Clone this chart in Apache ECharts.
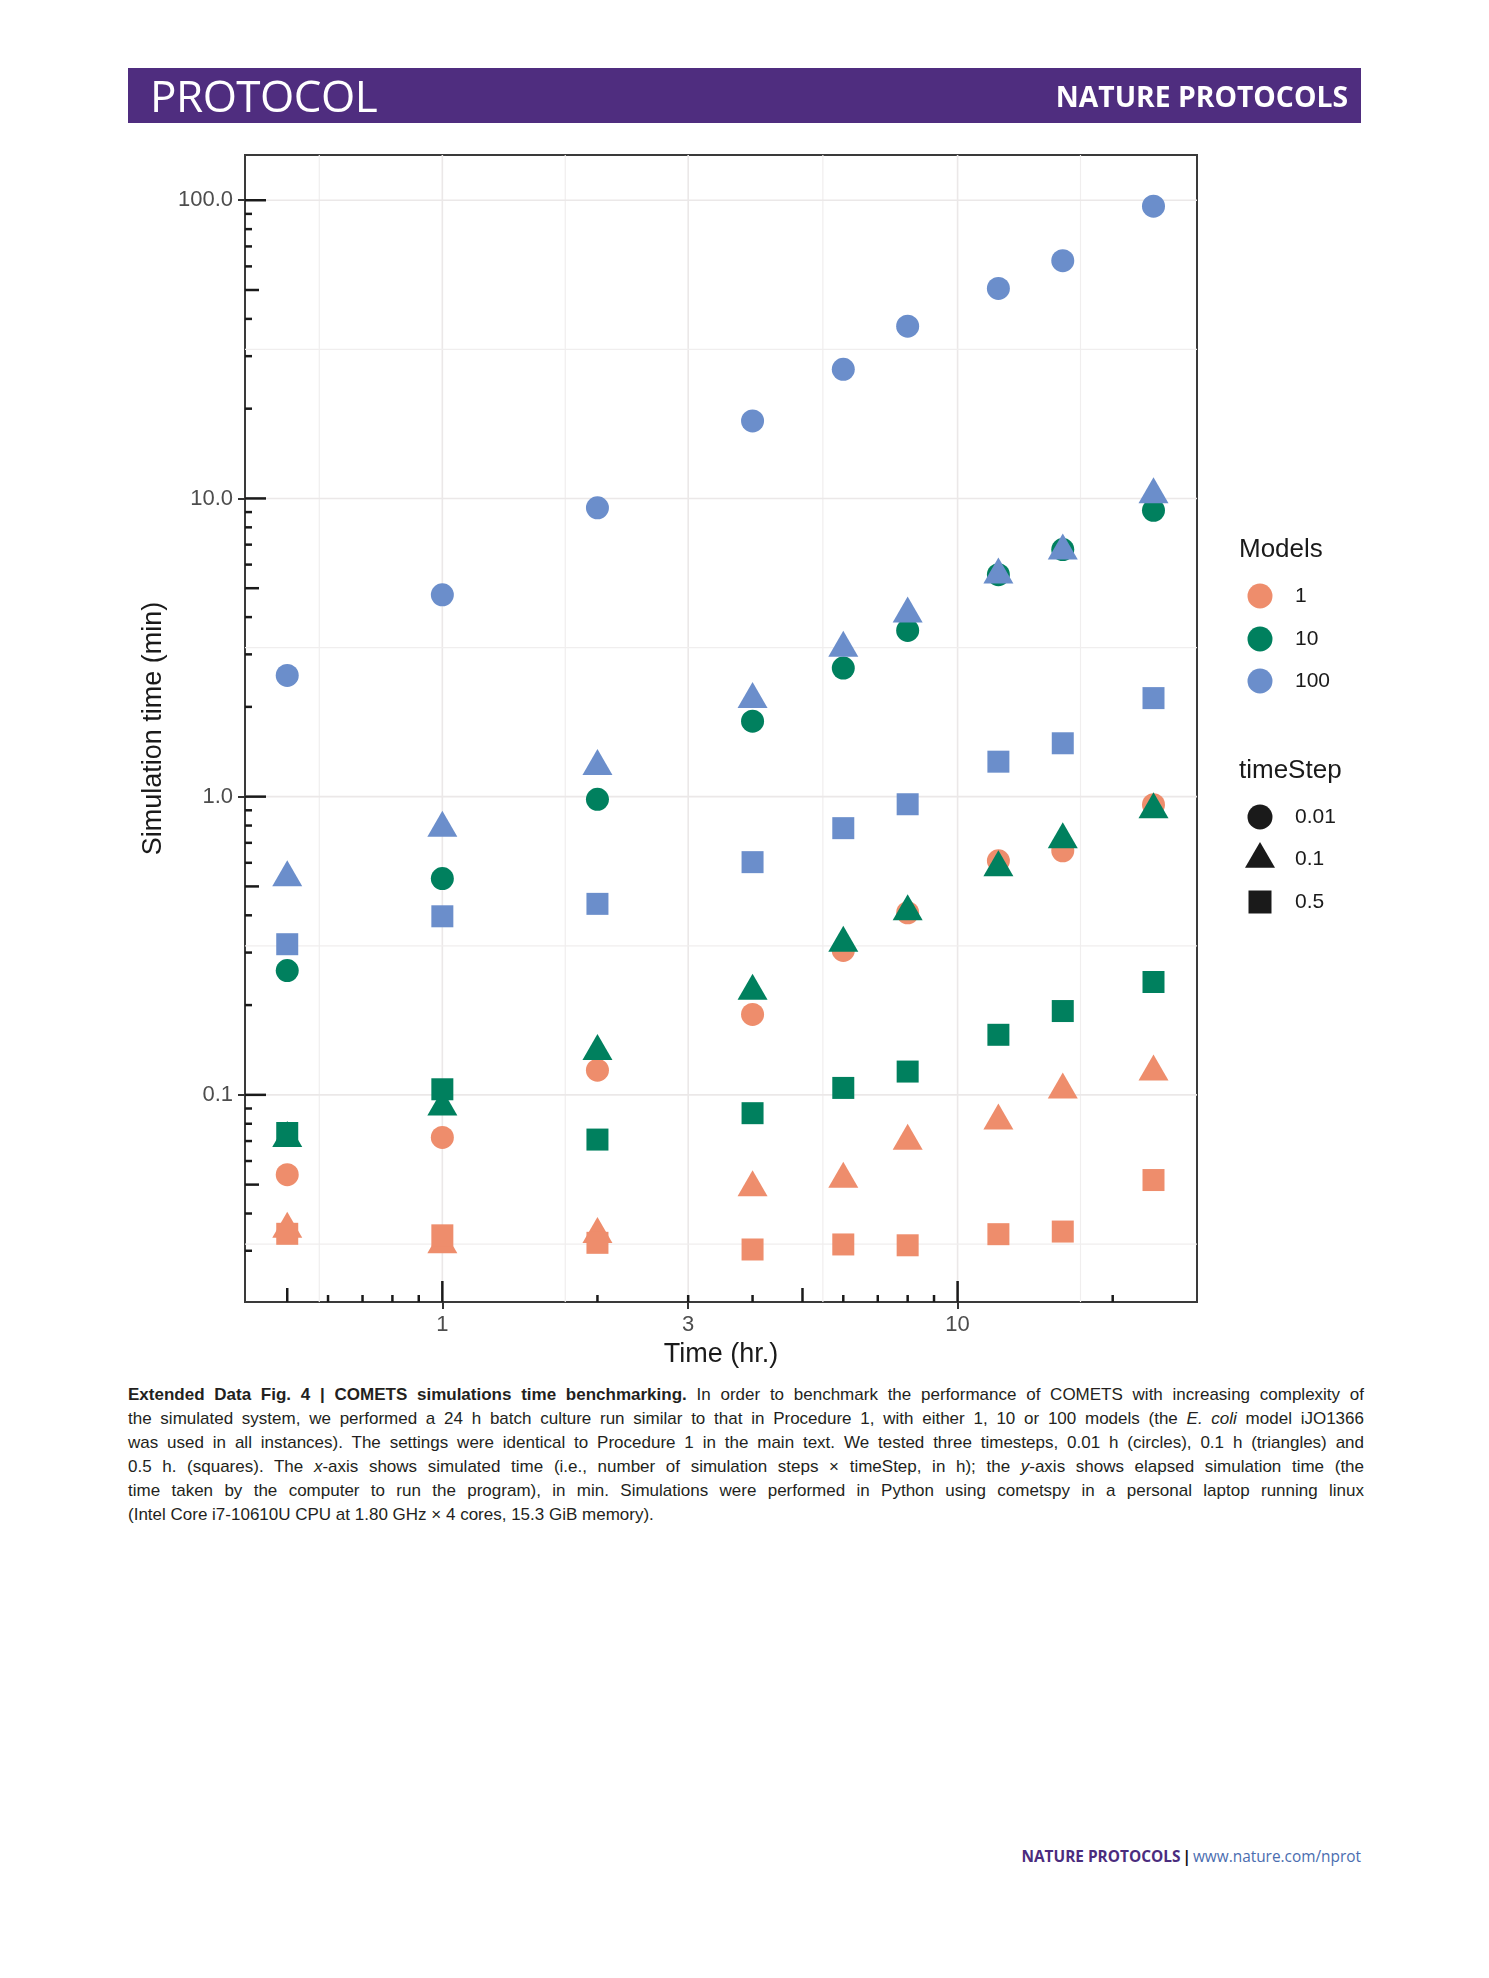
<!DOCTYPE html>
<html>
<head>
<meta charset="utf-8">
<script src="https://cdn.jsdelivr.net/npm/echarts@6/dist/echarts.min.js"></script>
<style>
html,body{margin:0;padding:0;background:#fff;}
body{width:1489px;height:1978px;position:relative;overflow:hidden;}
#chart{position:absolute;left:0;top:0;width:1489px;height:1380px;}
#header{position:absolute;left:128px;top:68px;width:1233px;height:55px;background:#4F2D7F;color:#fff;z-index:2;}
#hleft{position:absolute;left:22px;top:0;line-height:55px;font-family:'Open Sans',sans-serif;font-size:44px;font-weight:400;letter-spacing:-0.5px;}
#hright{position:absolute;right:13px;top:1px;line-height:55px;font-family:'Open Sans',sans-serif;font-weight:700;font-size:28.3px;}
#caption{position:absolute;left:128px;top:1383px;width:1236px;font-family:'Liberation Sans',sans-serif;font-size:17px;line-height:24px;color:#231F20;z-index:2;}
.cl{white-space:nowrap;height:24px;}
.cl .inner{display:inline-block;transform-origin:left center;}
#footer{position:absolute;right:128px;top:1845px;line-height:24px;font-family:'Open Sans',sans-serif;font-size:15.4px;white-space:nowrap;z-index:2;}
#footer .np{color:#4B2C7E;font-weight:700;}
#footer .bar{color:#111;font-weight:700;margin:0 2px;}
#footer .url{color:#4A6DB0;}
</style>
</head>
<body>
<div id="header"><div id="hleft">PROTOCOL</div><div id="hright">NATURE PROTOCOLS</div></div>
<div id="chart"></div>
<div id="caption">
<div class="cl"><span class="inner"><b>Extended Data Fig. 4 | COMETS simulations time benchmarking.</b> In order to benchmark the performance of COMETS with increasing complexity of</span></div>
<div class="cl"><span class="inner">the simulated system, we performed a 24 h batch culture run similar to that in Procedure 1, with either 1, 10 or 100 models (the <i>E. coli</i> model iJO1366</span></div>
<div class="cl"><span class="inner">was used in all instances). The settings were identical to Procedure 1 in the main text. We tested three timesteps, 0.01 h (circles), 0.1 h (triangles) and</span></div>
<div class="cl"><span class="inner">0.5 h. (squares). The <i>x</i>-axis shows simulated time (i.e., number of simulation steps × timeStep, in h); the <i>y</i>-axis shows elapsed simulation time (the</span></div>
<div class="cl"><span class="inner">time taken by the computer to run the program), in min. Simulations were performed in Python using cometspy in a personal laptop running linux</span></div>
<div class="cl"><span class="inner">(Intel Core i7-10610U CPU at 1.80 GHz × 4 cores, 15.3 GiB memory).</span></div>
</div>
<div id="footer"><span class="np">NATURE PROTOCOLS</span><span class="bar">|</span><span class="url">www.nature.com/nprot</span></div>
<script>
// ---------------- DATA ----------------
const timeHours = [0.5, 1, 2, 4, 6, 8, 12, 16, 24];
const modelNames = ['1', '10', '100'];
const timeStepNames = ['0.01', '0.1', '0.5'];

// Simulation time (min), models = 1
const m1_step001 = [0.054, 0.072, 0.121, 0.186, 0.305, 0.408, 0.609, 0.658, 0.94];
const m1_step01  = [0.0355, 0.0315, 0.0341, 0.0489, 0.0522, 0.070, 0.0818, 0.104, 0.1195];
const m1_step05  = [0.0342, 0.0338, 0.0319, 0.0303, 0.0315, 0.0313, 0.0341, 0.0348, 0.0518];
// models = 10
const m10_step001 = [0.261, 0.531, 0.98, 1.79, 2.70, 3.61, 5.55, 6.74, 9.12];
const m10_step01  = [0.0715, 0.0912, 0.140, 0.223, 0.323, 0.412, 0.578, 0.718, 0.905];
const m10_step05  = [0.0745, 0.1044, 0.0708, 0.0868, 0.1055, 0.1197, 0.159, 0.191, 0.239];
// models = 100
const m100_step001 = [2.55, 4.75, 9.3, 18.2, 27.1, 37.8, 50.6, 62.7, 95.5];
const m100_step01  = [0.535, 0.785, 1.265, 2.12, 3.15, 4.10, 5.55, 6.67, 10.3];
const m100_step05  = [0.32, 0.397, 0.437, 0.603, 0.784, 0.943, 1.31, 1.51, 2.14];

// axis ticks / labels
const xTickValues = [1, 3, 10];
const xTickLabels = ['1', '3', '10'];
const yTickValues = [0.1, 1, 10, 100];
const yTickLabels = ['0.1', '1.0', '10.0', '100.0'];
const xMinorGrid = [0.577, 1.732, 5.477, 17.32];
const yMinorGrid = [0.0316, 0.316, 3.16, 31.6];

// ---------------- STYLE ----------------
const modelColors = {'1': '#EE8D6C', '10': '#00805E', '100': '#6B8ECB'};
const shapeStyle = {
  '0.01': {symbol: 'circle', size: 23, offset: [0, 0]},
  '0.1': {symbol: 'triangle', size: [30, 26], offset: [0, -4.3]},
  '0.5': {symbol: 'rect', size: 22, offset: [0, 0]}
};
const FONT = 'Liberation Sans';
const X_MIN = 0.414, X_MAX = 29.15, Y_MIN = 0.0202, Y_MAX = 141.8;

const dataByModel = {
  '1': {'0.01': m1_step001, '0.1': m1_step01, '0.5': m1_step05},
  '10': {'0.01': m10_step001, '0.1': m10_step01, '0.5': m10_step05},
  '100': {'0.01': m100_step001, '0.1': m100_step01, '0.5': m100_step05}
};

const scatterSeries = modelNames.map(m => {
  const items = [];
  timeStepNames.forEach(ts => {
    const st = shapeStyle[ts];
    dataByModel[m][ts].forEach((v, i) => {
      items.push({value: [timeHours[i], v], symbol: st.symbol, symbolSize: st.size, symbolOffset: st.offset});
    });
  });
  return {
    type: 'scatter', name: m, data: items, z: 5,
    itemStyle: {color: modelColors[m], opacity: 1, borderWidth: 0},
    emphasis: {disabled: true}, silent: true
  };
});

// grid lines (kind: 0 = x major, 1 = x minor, 2 = y major, 3 = y minor)
const gridData = [];
xTickValues.forEach(v => gridData.push([v, 1, 0]));
xMinorGrid.forEach(v => gridData.push([v, 1, 1]));
yTickValues.forEach(v => gridData.push([1, v, 2]));
yMinorGrid.forEach(v => gridData.push([1, v, 3]));

// annotation log ticks (orient 0 = left/y, 1 = bottom/x), length code: 2 long, 1 mid, 0 short
const logTickData = [];
for (let e = -2; e <= 2; e++) {
  for (let k = 1; k <= 9; k++) {
    const v = k * Math.pow(10, e);
    const len = k === 1 ? 2 : (k === 5 ? 1 : 0);
    if (v >= Y_MIN && v <= Y_MAX) logTickData.push([1, v, len, 0]);
    if (v >= X_MIN && v <= X_MAX) logTickData.push([v, 1, len, 1]);
  }
}
const tickLen = [7, 14, 21];

function labelFor(values, labels) {
  return function (v) {
    for (let i = 0; i < values.length; i++) {
      if (Math.abs(v - values[i]) / values[i] < 1e-6) return labels[i];
    }
    return '';
  };
}

const chart = echarts.init(document.getElementById('chart'), null, {renderer: 'canvas'});

const legendX = 1260, legendTextX = 1295;
const legendModelsY = [596, 639, 681];
const legendStepY = [817, 859, 902];
const legendGraphic = [
  {type: 'text', x: 1239, y: 550, style: {text: 'Models', font: '26px ' + FONT, fill: '#1a1a1a', verticalAlign: 'middle'}},
  {type: 'text', x: 1239, y: 771, style: {text: 'timeStep', font: '26px ' + FONT, fill: '#1a1a1a', verticalAlign: 'middle'}}
];
modelNames.forEach((m, i) => {
  legendGraphic.push({type: 'circle', shape: {cx: legendX, cy: legendModelsY[i], r: 12.5}, style: {fill: modelColors[m]}});
  legendGraphic.push({type: 'text', x: legendTextX, y: legendModelsY[i], style: {text: m, font: '21px ' + FONT, fill: '#1a1a1a', verticalAlign: 'middle'}});
});
legendGraphic.push({type: 'circle', shape: {cx: legendX, cy: legendStepY[0], r: 12.5}, style: {fill: '#1a1a1a'}});
legendGraphic.push({type: 'polygon', shape: {points: [[legendX, legendStepY[1] - 17], [legendX + 15, legendStepY[1] + 8.7], [legendX - 15, legendStepY[1] + 8.7]]}, style: {fill: '#1a1a1a'}});
legendGraphic.push({type: 'rect', shape: {x: legendX - 11.5, y: legendStepY[2] - 11.5, width: 23, height: 23}, style: {fill: '#1a1a1a'}});
timeStepNames.forEach((t, i) => {
  legendGraphic.push({type: 'text', x: legendTextX, y: legendStepY[i], style: {text: t, font: '21px ' + FONT, fill: '#1a1a1a', verticalAlign: 'middle'}});
});

const option = {
  animation: false,
  backgroundColor: 'transparent',
  textStyle: {fontFamily: FONT},
  grid: {left: 245, top: 155, width: 952, height: 1147, show: true, borderColor: '#3a3a3a', borderWidth: 2, backgroundColor: 'transparent'},
  xAxis: {
    type: 'log', logBase: 10, min: X_MIN, max: X_MAX,
    axisLine: {show: false},
    axisTick: {show: true, customValues: xTickValues, length: 7, inside: false, lineStyle: {color: '#333', width: 2}},
    axisLabel: {customValues: xTickValues, formatter: labelFor(xTickValues, xTickLabels), fontSize: 22, color: '#4D4D4D', margin: 12, fontFamily: FONT},
    splitLine: {show: false}, minorTick: {show: false}, minorSplitLine: {show: false},
    name: 'Time (hr.)', nameLocation: 'middle', nameGap: 39,
    nameTextStyle: {fontSize: 27, color: '#1a1a1a', fontFamily: FONT}
  },
  yAxis: {
    type: 'log', logBase: 10, min: Y_MIN, max: Y_MAX,
    axisLine: {show: false},
    axisTick: {show: true, customValues: yTickValues, length: 7, inside: false, lineStyle: {color: '#333', width: 2}},
    axisLabel: {customValues: yTickValues, formatter: labelFor(yTickValues, yTickLabels), fontSize: 22, color: '#4D4D4D', margin: 12, fontFamily: FONT},
    splitLine: {show: false}, minorTick: {show: false}, minorSplitLine: {show: false},
    name: 'Simulation time (min)', nameLocation: 'middle', nameGap: 76, nameRotate: 90,
    nameTextStyle: {fontSize: 27, color: '#1a1a1a', fontFamily: FONT}
  },
  graphic: legendGraphic,
  series: [
    {
      type: 'custom', name: 'grid', data: gridData, z: 1, silent: true, clip: false,
      encode: {x: 0, y: 1},
      renderItem: function (params, api) {
        const cs = params.coordSys;
        const kind = api.value(2);
        const major = (kind === 0 || kind === 2);
        const style = {stroke: major ? '#EBE8E8' : '#F0EEEE', lineWidth: major ? 1.6 : 1.2};
        if (kind <= 1) {
          const p = api.coord([api.value(0), 1]);
          return {type: 'line', shape: {x1: p[0], y1: cs.y, x2: p[0], y2: cs.y + cs.height}, style: style};
        }
        const p = api.coord([1, api.value(1)]);
        return {type: 'line', shape: {x1: cs.x, y1: p[1], x2: cs.x + cs.width, y2: p[1]}, style: style};
      }
    },
    {
      type: 'custom', name: 'logticks', data: logTickData, z: 3, silent: true, clip: false,
      encode: {x: 0, y: 1},
      renderItem: function (params, api) {
        const cs = params.coordSys;
        const len = tickLen[api.value(2)];
        const style = {stroke: '#1a1a1a', lineWidth: 2.5};
        if (api.value(3) === 0) {
          const p = api.coord([1, api.value(1)]);
          return {type: 'line', shape: {x1: cs.x, y1: p[1], x2: cs.x + len, y2: p[1]}, style: style};
        }
        const p = api.coord([api.value(0), 1]);
        const yb = cs.y + cs.height;
        return {type: 'line', shape: {x1: p[0], y1: yb, x2: p[0], y2: yb - len}, style: style};
      }
    }
  ].concat(scatterSeries)
};
chart.setOption(option);

// justify caption lines
function justify() {
  const lines = Array.from(document.querySelectorAll('#caption .cl'));
  const target = 1236;
  let minScale = 1;
  lines.forEach((line, idx) => {
    const inner = line.querySelector('.inner');
    inner.style.wordSpacing = '0px';
    inner.style.transform = 'none';
    const w = inner.getBoundingClientRect().width;
    if (idx === lines.length - 1) return;
    if (w > target) {
      const s = target / w;
      minScale = Math.min(minScale, s);
      inner.style.transform = 'scaleX(' + s + ')';
    } else {
      const spaces = (inner.textContent.match(/ /g) || []).length;
      inner.style.wordSpacing = ((target - w) / spaces) + 'px';
    }
  });
  const lastInner = lines[lines.length - 1].querySelector('.inner');
  if (minScale < 1) lastInner.style.transform = 'scaleX(' + minScale + ')';
}
if (document.fonts && document.fonts.ready) { document.fonts.ready.then(justify); } else { justify(); }
justify();
</script>
</body>
</html>
